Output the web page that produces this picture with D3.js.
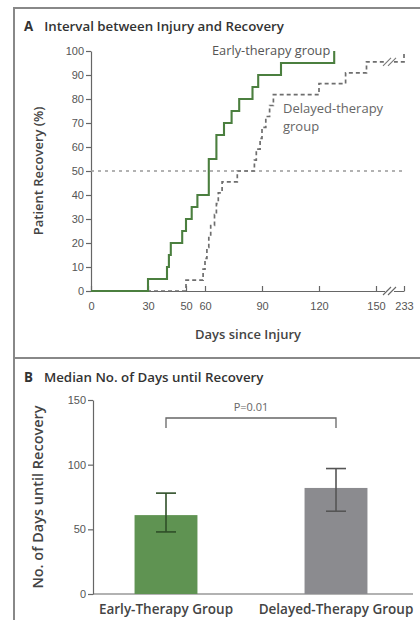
<!DOCTYPE html>
<html>
<head>
<meta charset="utf-8">
<script src="https://cdn.jsdelivr.net/npm/d3@7/dist/d3.min.js"></script>
<style>
  body { margin: 0; background: #fff; }
  svg { display: block; font-family: "Open Sans", "DejaVu Sans", sans-serif; }
  .tick text { fill: #555; font-size: 11px; }
  .tick line, .domain { stroke: #666; stroke-width: 1.2; }
</style>
</head>
<body>
<svg id="chart" width="420" height="620"></svg>
<script>
// Panel A: Kaplan-Meier style recovery curves (day of event, cumulative % recovered)
const earlyDays = [0, 30, 40, 41, 42, 48, 50, 53, 56, 62, 66, 70, 74, 78, 85, 88, 100, 128];
const earlyPct  = [0, 5, 10, 15, 20, 25, 30, 35, 40, 55, 65, 70, 75, 80, 85, 90, 95, 100];

const delayedDays = [0, 50, 59, 60, 61, 62, 63, 65, 66, 67, 69, 77, 86, 87, 89, 90, 92, 94, 96, 120, 134, 145, 233];
const delayedPct  = [0, 4.5, 9.1, 13.6, 18.2, 22.7, 27.3, 31.8, 36.4, 40.9, 45.5, 50, 54.5, 59.1, 63.6, 68.2, 72.7, 77.3, 81.8, 86.4, 90.9, 95.5, 100];

const xTicksA = [0, 30, 50, 60, 90, 120, 150, 233];
const yTicksA = [0, 10, 20, 30, 40, 50, 60, 70, 80, 90, 100];
const medianLine = 50;

// Panel B: median days until recovery with error bars
const groups = ["Early-Therapy Group", "Delayed-Therapy Group"];
const medianDays = [61, 82];
const errLow = [48, 64];
const errHigh = [78, 97];
const yTicksB = [0, 50, 100, 150];
const pLabel = "P=0.01";

const svg = d3.select("#chart");

// frame lines
svg.append("path").attr("d", "M14,620V8H420").attr("fill", "none").attr("stroke", "#888").attr("stroke-width", 2);
svg.append("line").attr("x1", 14).attr("x2", 420).attr("y1", 358).attr("y2", 358)
  .attr("stroke", "#888").attr("stroke-width", 2);

// panel titles
function panelTitle(letter, text, y) {
  const t = svg.append("text").attr("x", 24).attr("y", y)
    .attr("font-size", 13.3).attr("font-weight", 600).attr("fill", "#333");
  t.append("tspan").text(letter).attr("font-weight", 700);
  t.append("tspan").attr("dx", 11).text(text);
}
panelTitle("A", "Interval between Injury and Recovery", 31);
panelTitle("B", "Median No. of Days until Recovery", 382);

// ---------- Panel A ----------
const xA = d3.scaleLinear().domain([0, 150, 233]).range([91, 376, 404]);
const yA = d3.scaleLinear().domain([0, 100]).range([291, 51]);

svg.append("g")
  .attr("transform", "translate(91,0)")
  .call(d3.axisLeft(yA).tickValues(yTicksA).tickSizeInner(5).tickSizeOuter(0).tickPadding(2))
  .call(g => g.selectAll(".tick text").attr("dy", "0.34em"));

svg.append("g")
  .attr("transform", "translate(0,291)")
  .call(d3.axisBottom(xA).tickValues(xTicksA).tickSizeInner(-5).tickSizeOuter(0).tickPadding(11));

// axis break
svg.append("rect").attr("x", 385).attr("y", 286).attr("width", 9).attr("height", 10).attr("fill", "#fff");
[385, 390].forEach(bx => {
  svg.append("line").attr("x1", bx - 2).attr("y1", 295).attr("x2", bx + 6).attr("y2", 287)
    .attr("stroke", "#666").attr("stroke-width", 1.1);
});

// 50% reference
svg.append("line")
  .attr("x1", xA(0)).attr("x2", xA(233))
  .attr("y1", yA(medianLine)).attr("y2", yA(medianLine))
  .attr("stroke", "#999").attr("stroke-width", 1.4).attr("stroke-dasharray", "3,4");

const stepLine = d3.line().x(d => xA(d[0])).y(d => yA(d[1])).curve(d3.curveStepAfter);

svg.append("path")
  .datum(delayedDays.map((d, i) => [d, delayedPct[i]]))
  .attr("d", stepLine)
  .attr("fill", "none").attr("stroke", "#6e6e6e").attr("stroke-width", 1.7)
  .attr("stroke-dasharray", "4,3");

svg.append("path")
  .datum(earlyDays.map((d, i) => [d, earlyPct[i]]))
  .attr("d", stepLine)
  .attr("fill", "none").attr("stroke", "#4b7f3f").attr("stroke-width", 2.1);

// break marks on curve
svg.append("rect").attr("x", 385).attr("y", yA(95.5) - 4).attr("width", 9).attr("height", 8).attr("fill", "#fff");
[385, 390].forEach(bx => {
  svg.append("line").attr("x1", bx - 2).attr("y1", yA(95.5) + 4).attr("x2", bx + 6).attr("y2", yA(95.5) - 4)
    .attr("stroke", "#777").attr("stroke-width", 1.1);
});

// annotations
svg.append("text").attr("x", 212).attr("y", 55).attr("font-size", 12.8).attr("fill", "#555")
  .text("Early-therapy group");
svg.append("text").attr("x", 283).attr("y", 113).attr("font-size", 13).attr("fill", "#666")
  .text("Delayed-therapy");
svg.append("text").attr("x", 283).attr("y", 131).attr("font-size", 13).attr("fill", "#666")
  .text("group");

svg.append("text").attr("x", 248).attr("y", 339).attr("text-anchor", "middle")
  .attr("font-size", 13).attr("font-weight", 600).attr("fill", "#444").text("Days since Injury");
svg.append("text").attr("transform", `translate(43,${yA(50)}) rotate(-90)`).attr("text-anchor", "middle")
  .attr("font-size", 13).attr("font-weight", 600).attr("fill", "#444").text("Patient Recovery (%)");

// ---------- Panel B ----------
const xB = d3.scaleBand().domain(groups).range([81, 421]).paddingInner(0.63).paddingOuter(0.315);
const yB = d3.scaleLinear().domain([0, 150]).range([594, 400]);
const barColors = ["#5f9352", "#8b8b8f"];
const errColors = ["#2f4f28", "#555"];

svg.append("g")
  .attr("transform", "translate(93,0)")
  .call(d3.axisLeft(yB).tickValues(yTicksB).tickSizeInner(5).tickSizeOuter(0).tickPadding(2));

svg.append("line").attr("x1", 93).attr("x2", 413).attr("y1", yB(0)).attr("y2", yB(0))
  .attr("stroke", "#666").attr("stroke-width", 1.2);

svg.selectAll(".bar").data(groups).enter().append("rect")
  .attr("class", "bar")
  .attr("x", d => xB(d)).attr("width", xB.bandwidth())
  .attr("y", (d, i) => yB(medianDays[i]))
  .attr("height", (d, i) => yB(0) - yB(medianDays[i]))
  .attr("fill", (d, i) => barColors[i]);

groups.forEach((g, i) => {
  const cx = xB(g) + xB.bandwidth() / 2;
  const eg = svg.append("g").attr("stroke", errColors[i]).attr("stroke-width", 1.6);
  eg.append("line").attr("x1", cx).attr("x2", cx).attr("y1", yB(errLow[i])).attr("y2", yB(errHigh[i]));
  [errLow[i], errHigh[i]].forEach(v => {
    eg.append("line").attr("x1", cx - 10).attr("x2", cx + 10).attr("y1", yB(v)).attr("y2", yB(v));
  });
  svg.append("text").attr("x", cx).attr("y", 614).attr("text-anchor", "middle")
    .attr("font-size", 13.5).attr("font-weight", 600).attr("fill", "#444").text(g);
});

// significance bracket
const c0 = xB(groups[0]) + xB.bandwidth() / 2;
const c1 = xB(groups[1]) + xB.bandwidth() / 2;
svg.append("path").attr("d", `M${c0},428V418H${c1}V428`).attr("fill", "none")
  .attr("stroke", "#666").attr("stroke-width", 1.3);
svg.append("text").attr("x", (c0 + c1) / 2).attr("y", 411).attr("text-anchor", "middle")
  .attr("font-size", 11).attr("fill", "#666").text(pLabel);

svg.append("text").attr("transform", `translate(43,${yB(75)}) rotate(-90)`).attr("text-anchor", "middle")
  .attr("font-size", 14.5).attr("font-weight", 600).attr("fill", "#444").text("No. of Days until Recovery");
</script>
</body>
</html>
